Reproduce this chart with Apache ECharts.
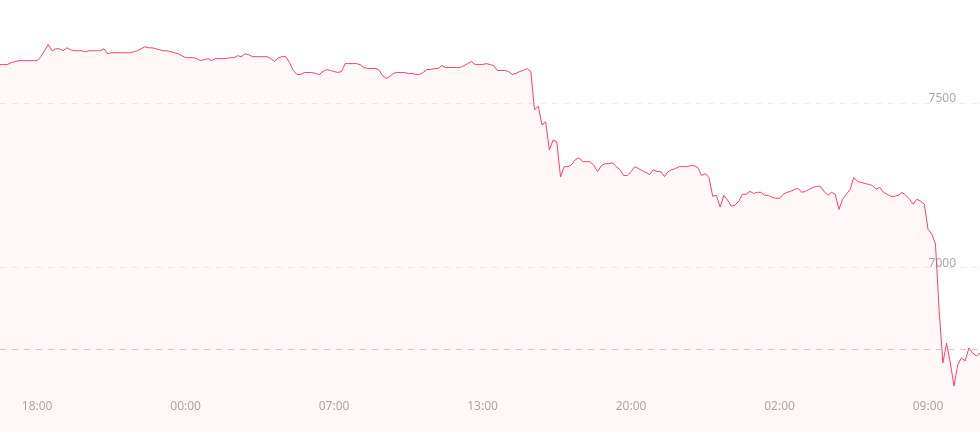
<!DOCTYPE html>
<html>
<head>
<meta charset="utf-8">
<script src="https://cdn.jsdelivr.net/npm/echarts@6/dist/echarts.min.js"></script>
<style>
html,body{margin:0;padding:0;background:#fff;}
#chart{width:980px;height:432px;}
</style>
</head>
<body>
<div id="chart"></div>
<script>
// Price series (evenly spaced samples)
const prices = [
7616,7616,7616,7622,7625,7628,7628,7628,7628,7628,
7628,7640,7658,7677,7658,7664,7664,7658,7667,7661,
7658,7658,7658,7655,7658,7658,7658,7658,7664,7649,
7652,7652,7652,7652,7652,7652,7655,7658,7664,7670,
7667,7667,7664,7661,7658,7658,7655,7652,7649,7643,
7637,7637,7637,7634,7628,7631,7634,7628,7634,7634,
7634,7634,7637,7637,7643,7640,7649,7646,7640,7640,
7640,7640,7640,7634,7625,7637,7640,7640,7622,7598,
7586,7586,7592,7592,7592,7589,7586,7595,7601,7598,
7595,7592,7595,7619,7619,7619,7619,7616,7607,7604,
7604,7604,7601,7583,7574,7580,7589,7592,7592,7592,
7589,7589,7586,7586,7592,7601,7601,7604,7604,7613,
7607,7607,7607,7607,7607,7613,7619,7625,7616,7616,
7616,7619,7616,7613,7598,7598,7598,7595,7586,7589,
7595,7598,7604,7595,7478,7490,7433,7442,7357,7387,
7381,7275,7306,7306,7312,7327,7333,7321,7321,7321,
7309,7291,7309,7315,7315,7318,7306,7297,7279,7279,
7291,7306,7300,7294,7288,7282,7297,7291,7291,7276,
7291,7297,7300,7306,7306,7306,7309,7309,7303,7279,
7285,7273,7216,7219,7183,7219,7204,7186,7189,7201,
7222,7222,7231,7225,7228,7228,7219,7219,7213,7210,
7210,7222,7228,7231,7237,7240,7228,7231,7237,7243,
7246,7246,7231,7219,7228,7222,7176,7207,7222,7237,
7273,7261,7258,7255,7252,7249,7237,7243,7228,7222,
7216,7216,7219,7228,7219,7207,7192,7207,7201,7192,
7116,7101,7071,6869,6710,6770,6710,6640,6704,6725,
6716,6755,6740,6731,6740
];
const tickIndex = [10, 50, 90, 130, 170, 210, 250];
const tickLabels = ['18:00', '00:00', '07:00', '13:00', '20:00', '02:00', '09:00'];
const refLine = 6750;
const yMin = 6500, yMax = 7800, yStep = 500;

const categories = prices.map((_, i) => String(i));

const chart = echarts.init(document.getElementById('chart'), null, {renderer: 'canvas'});
chart.setOption({
  animation: false,
  backgroundColor: '#fff',
  grid: {left: 0, right: 0, top: 4, bottom: -4, containLabel: false},
  xAxis: {
    type: 'category',
    data: categories,
    boundaryGap: false,
    axisLine: {show: false},
    axisTick: {show: false},
    splitLine: {show: false},
    axisLabel: {
      inside: true,
      margin: 19,
      color: '#aaa',
      fontSize: 12,
      fontFamily: 'Noto Sans, sans-serif',
      interval: (idx) => tickIndex.indexOf(idx) >= 0,
      formatter: (v, idx) => {
        const k = tickIndex.indexOf(idx);
        return k >= 0 ? tickLabels[k] : '';
      }
    }
  },
  yAxis: {
    type: 'value',
    position: 'right',
    min: yMin, max: yMax, interval: yStep,
    axisLine: {show: false},
    axisTick: {show: false},
    axisLabel: {
      inside: true,
      margin: 24,
      color: '#aaa',
      fontSize: 12,
      lineHeight: 8,
      fontFamily: 'Noto Sans, sans-serif',
      verticalAlign: 'bottom',
      showMinLabel: false,
      showMaxLabel: false,
      formatter: (v) => String(v)
    },
    splitLine: {
      show: true,
      showMinLine: false,
      showMaxLine: false,
      lineStyle: {color: '#eeeeee', type: [6, 6], width: 1}
    }
  },
  series: [{
    type: 'line',
    data: prices,
    symbol: 'none',
    smooth: false,
    lineStyle: {color: '#f4436a', width: 1},
    itemStyle: {color: '#f4436a'},
    areaStyle: {color: 'rgba(245,70,100,0.06)', origin: 'start'},
    markLine: {
      silent: true,
      symbol: 'none',
      label: {show: false},
      lineStyle: {color: '#ffb3c1', type: [6, 6], width: 1},
      data: [{yAxis: refLine}]
    }
  }]
});
</script>
</body>
</html>
